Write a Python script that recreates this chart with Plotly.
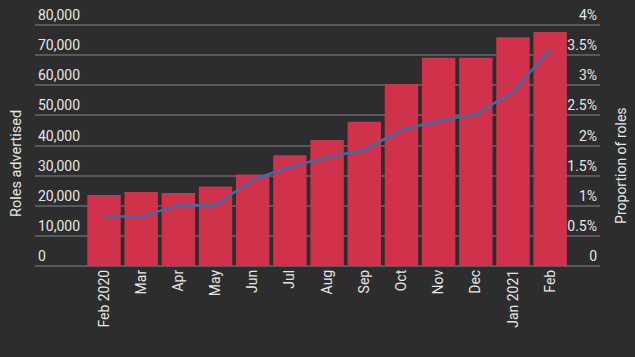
import plotly.graph_objects as go

months = ["Feb 2020", "Mar", "Apr", "May", "Jun", "Jul", "Aug", "Sep", "Oct",
          "Nov", "Dec", "Jan 2021", "Feb"]
roles_advertised = [23600, 24600, 24200, 26400, 30400, 36800, 41800, 47900,
                    60400, 69100, 69100, 75900, 77700]
proportion_pct = [0.82, 0.82, 1.01, 1.01, 1.43, 1.65, 1.80, 1.93, 2.26,
                  2.41, 2.52, 2.89, 3.60]

left_ticks = [0, 10000, 20000, 30000, 40000, 50000, 60000, 70000, 80000]
right_ticks = [0, 0.5, 1, 1.5, 2, 2.5, 3, 3.5, 4]
right_text = ["0", "0.5%", "1%", "1.5%", "2%", "2.5%", "3%", "3.5%", "4%"]

BG = "#2d2d2d"
GRID = "#595959"
TXT = "#e6e6e6"
FONT = "Roboto"

x_idx = list(range(len(months)))

fig = go.Figure()
fig.add_trace(go.Bar(x=x_idx, y=roles_advertised, marker_color="#d0314b",
                     marker_line_width=0, width=0.9, yaxis="y"))
fig.add_trace(go.Scatter(x=x_idx, y=proportion_pct, mode="lines",
                         line=dict(color="#3d6fa6", width=2.5), yaxis="y2"))

# plot area: x 35..600, y 0..266 (80,000 gridline at y=25)
ymax = 80000 + 25 / 30.125 * 10000
fig.update_layout(
    width=635, height=357,
    margin=dict(l=35, r=35, t=0, b=91),
    paper_bgcolor=BG, plot_bgcolor=BG,
    font=dict(family=FONT, size=14, color=TXT),
    showlegend=False,
    xaxis=dict(
        range=[-1.856, 13.34], tickmode="array", tickvals=x_idx, ticktext=months,
        tickangle=-90, showgrid=False, zeroline=False, showline=False,
        ticks="", tickfont=dict(size=14, color=TXT),
    ),
    yaxis=dict(
        range=[0, ymax], tickmode="array", tickvals=left_ticks,
        ticktext=[f"{v:,}" for v in left_ticks],
        ticklabelposition="inside top", showgrid=True, gridcolor=GRID,
        gridwidth=1.5, zeroline=True, zerolinecolor=GRID, zerolinewidth=1.5,
        showline=False, ticks="", tickfont=dict(size=14, color=TXT),
    ),
    yaxis2=dict(
        range=[0, ymax / 20000], overlaying="y", side="right", tickmode="array",
        tickvals=right_ticks, ticktext=right_text,
        ticklabelposition="inside top", showgrid=False, zeroline=False,
        showline=False, ticks="", tickfont=dict(size=14, color=TXT),
    ),
    annotations=[
        dict(text="Roles advertised", xref="paper", yref="paper",
             x=-0.0336, y=(266 - 164) / 266, textangle=-90, showarrow=False,
             font=dict(size=14.5, color=TXT, family=FONT),
             xanchor="center", yanchor="middle"),
        dict(text="Proportion of roles", xref="paper", yref="paper",
             x=1.037, y=(266 - 165) / 266, textangle=-90, showarrow=False,
             font=dict(size=14, color=TXT, family=FONT),
             xanchor="center", yanchor="middle"),
    ],
)

fig.write_html("out.html", config={"displayModeBar": False},
               post_script="document.body.style.margin='0';document.body.style.overflow='hidden';")
